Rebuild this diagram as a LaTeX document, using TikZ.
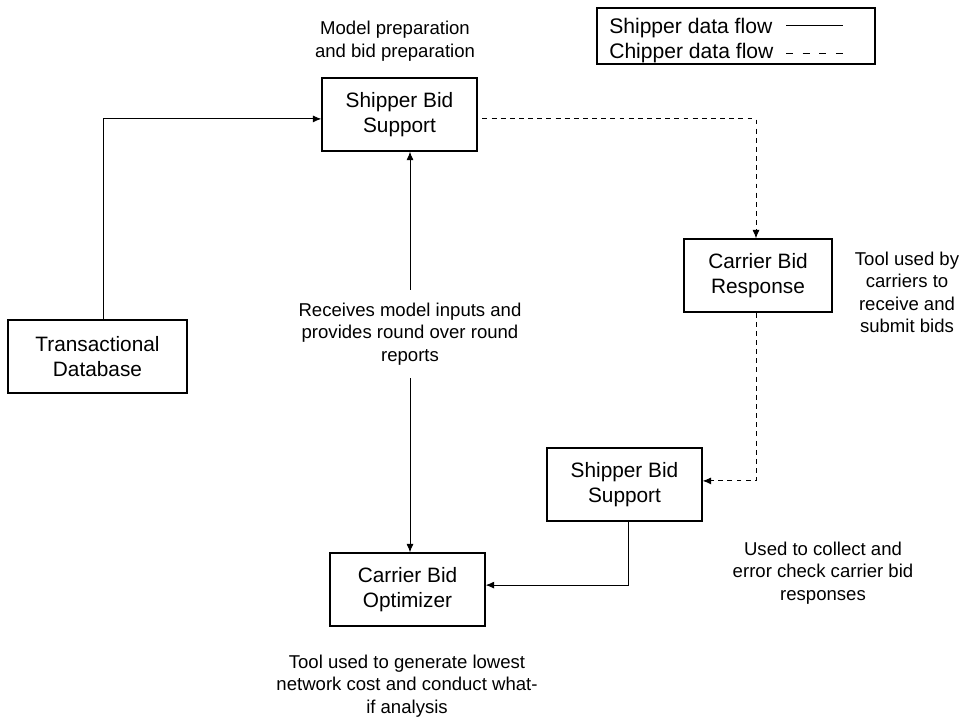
\documentclass[tikz,border=0pt]{standalone}
\usepackage{fontspec}
\setmainfont{Liberation Sans}
\usetikzlibrary{arrows.meta,positioning}

\tikzset{
  blockbox/.style={draw, line width=0.9pt, minimum width=3.875cm, minimum height=1.825cm,
    align=center, inner sep=2pt, font=\fontsize{14.8}{17.8}\selectfont},
  notetext/.style={align=center, inner sep=2pt, font=\fontsize{13.2}{16}\selectfont},
  legendtext/.style={anchor=base west, inner sep=0pt, font=\fontsize{15}{18}\selectfont},
  flow/.style={line width=0.7pt, -{Latex[length=6pt,width=5pt]}},
  chipflow/.style={flow, dash pattern=on 3.5pt off 3pt},
}

\begin{document}
\begin{tikzpicture}[x=0.025cm,y=-0.025cm]
\useasboundingbox (0,0) rectangle (974,719);

% boxes
\node[blockbox, minimum width=4.475cm] (tdb) at (97.5,356.5) {Transactional\\Database};
\node[blockbox] (sbstop) at (399.5,114.5) {Shipper Bid\\Support};
\node[blockbox, minimum width=3.7cm] (cbr) at (758,275.5) {Carrier Bid\\Response};
\node[blockbox] (sbsbot) at (624.5,484.5) {Shipper Bid\\Support};
\node[blockbox] (cbo) at (407.5,589.5) {Carrier Bid\\Optimizer};

% notes
\node[notetext] (prepnote) at (395,41) {Model preparation\\and bid preparation};
\node[notetext] (carriernote) at (907,292.5) {Tool used by\\carriers to\\receive and\\submit bids};
\node[notetext] (collectnote) at (823,573) {Used to collect and\\error check carrier bid\\responses};
\node[notetext] (optnote) at (407,686) {Tool used to generate lowest\\network cost and conduct what-\\if analysis};
\node[notetext, inner sep=9pt] (recvnote) at (410,334) {Receives model inputs and\\provides round over round\\reports};

% shipper flows
\draw[flow] ([xshift=0.16cm]tdb.north) |- ([yshift=-0.11cm]sbstop.west);
\draw[flow] (recvnote) -- (recvnote |- sbstop.south);
\draw[flow] (recvnote) -- (recvnote |- cbo.north);
\draw[flow] ([xshift=0.09cm]sbsbot.south) |- ([yshift=0.11cm]cbo.east);

% chipper flows
\draw[chipflow] ([xshift=0.12cm,yshift=-0.11cm]sbstop.east) -| ([xshift=-0.05cm]cbr.north);
\draw[chipflow] ([xshift=-0.05cm]cbr.south) |- ([yshift=0.09cm]sbsbot.east);

% legend
\node[draw, line width=0.9pt, minimum width=6.95cm, minimum height=1.4cm] (legend) at (736,36) {};
\node[legendtext] (shiplbl) at (609,33) {Shipper data flow};
\node[legendtext] (chiplbl) at (609,58) {Chipper data flow};
\coordinate (shipa) at (786,25);
\coordinate (shipb) at (843,25);
\coordinate (chipa) at (786,53);
\coordinate (chipb) at (843,53);
\draw[line width=0.7pt] (shipa) -- (shipb);
\draw[line width=0.7pt, dash pattern=on 5pt off 6.8pt] (chipa) -- (chipb);
\end{tikzpicture}
\end{document}
